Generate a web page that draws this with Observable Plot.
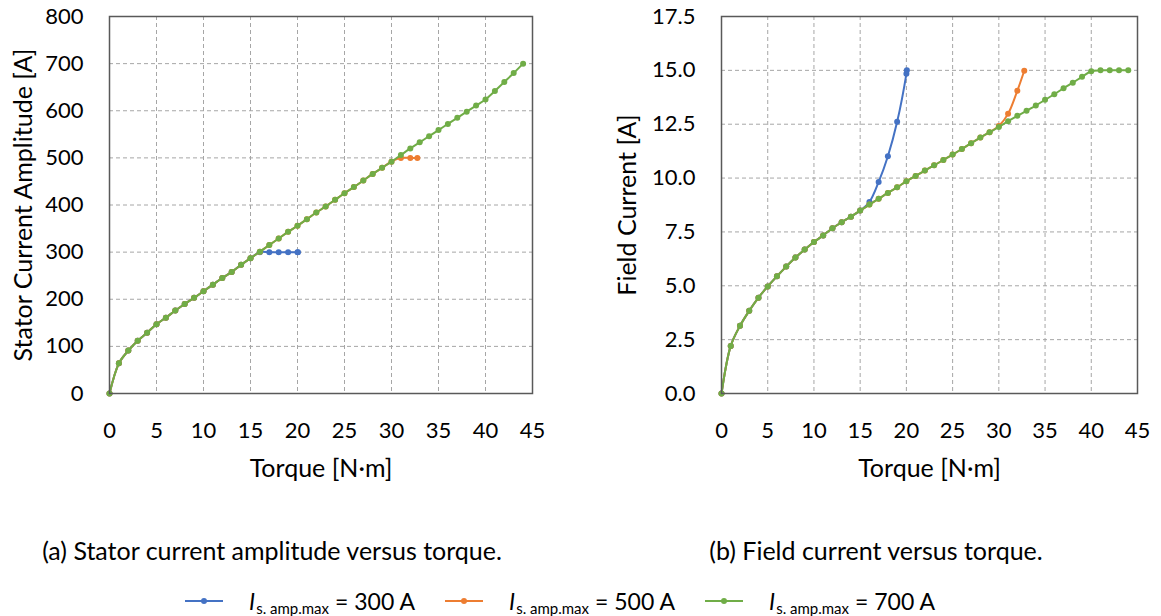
<!DOCTYPE html>
<html>
<head>
<meta charset="utf-8">
<script src="https://cdn.jsdelivr.net/npm/d3@7"></script>
<script src="https://cdn.jsdelivr.net/npm/@observablehq/plot@0.6"></script>
<style>
  html, body { margin: 0; padding: 0; background: #fff; }
  body { width: 1161px; height: 616px; position: relative; overflow: hidden; font-family: Lato, sans-serif; color: #000; }
  #left { position: absolute; left: 0; top: 0; }
  #right { position: absolute; left: 590px; top: 0; }
  .caption { position: absolute; font-size: 25px; line-height: 30px; white-space: nowrap; transform: translateX(-50%); }
  #legend { position: absolute; top: 586px; left: 0; width: 1161px; height: 30px; font-size: 23px; }
  .swatch { position: absolute; top: 10px; }
  .label { position: absolute; top: 0; line-height: 30px; white-space: nowrap; }
  .label sub { font-size: 15px; vertical-align: -4px; margin-left: 1px; margin-right: 6px; }
</style>
</head>
<body>
<div id="left"></div>
<div id="right"></div>
<div class="caption" style="left:272px; top:535px;">(a) Stator current amplitude versus torque.</div>
<div class="caption" style="left:876px; top:535px;">(b) Field current versus torque.</div>
<div id="legend"></div>
<script>
// ---- Data ----
const seriesNames = ["300 A", "500 A", "700 A"];
const seriesColors = ["#4472C4", "#ED7D31", "#70AD47"];

const xTicks = [0, 5, 10, 15, 20, 25, 30, 35, 40, 45];
const statorTicks = [0, 100, 200, 300, 400, 500, 600, 700, 800];
const fieldTicks = [0, 2.5, 5, 7.5, 10, 12.5, 15, 17.5];

// I_s.amp.max = 700 A
const torque700 = [0,1,2,3,4,5,6,7,8,9,10,11,12,13,14,15,16,17,18,19,20,21,22,23,24,25,26,27,28,29,30,31,32,33,34,35,36,37,38,39,40,41,42,43,44];
const stator700 = [0,64,91,112,129,147,161,176,190,203,217,231,245,258,273,287,301,315,329,343,356,370,384,397,411,425,438,452,466,479,492,506,520,533,546,559,572,585,598,611,624,642,661,680,700];
const field700 = [0,2.21,3.14,3.84,4.45,4.97,5.44,5.89,6.31,6.68,7.03,7.34,7.67,7.95,8.21,8.49,8.77,9.04,9.31,9.57,9.85,10.10,10.35,10.59,10.84,11.09,11.35,11.62,11.88,12.13,12.37,12.64,12.89,13.12,13.37,13.63,13.89,14.17,14.43,14.70,14.96,15,15,15,15];

// I_s.amp.max = 300 A
const torque300 = [0,1,2,3,4,5,6,7,8,9,10,11,12,13,14,15,16,17,18,19,20,20.05];
const stator300 = [0,64,91,112,129,147,161,176,190,203,217,231,245,258,273,287,300,300,300,300,300,300];
const field300 = [0,2.21,3.14,3.84,4.45,4.97,5.44,5.89,6.31,6.68,7.03,7.34,7.67,7.95,8.21,8.49,8.89,9.82,11.01,12.61,14.84,15.0];

// I_s.amp.max = 500 A
const torque500 = [0,1,2,3,4,5,6,7,8,9,10,11,12,13,14,15,16,17,18,19,20,21,22,23,24,25,26,27,28,29,30,31,32,32.75];
const stator500 = [0,64,91,112,129,147,161,176,190,203,217,231,245,258,273,287,301,315,329,343,356,370,384,397,411,425,438,452,466,479,492,500,500,500];
const field500 = [0,2.21,3.14,3.84,4.45,4.97,5.44,5.89,6.31,6.68,7.03,7.34,7.67,7.95,8.21,8.49,8.77,9.04,9.31,9.57,9.85,10.10,10.35,10.59,10.84,11.09,11.35,11.62,11.88,12.13,12.42,12.98,14.05,14.98];

const xLabel = "Torque [N·m]";
const statorLabel = "Stator Current Amplitude [A]";
const fieldLabel = "Field Current [A]";

// ---- Build tables ----
function table(xs, ys, s) { return xs.map((x, i) => ({x, y: ys[i], s})); }
const statorSeries = [
  table(torque300, stator300, seriesNames[0]),
  table(torque500, stator500, seriesNames[1]),
  table(torque700, stator700, seriesNames[2])
];
const fieldSeries = [
  table(torque300, field300, seriesNames[0]),
  table(torque500, field500, seriesNames[1]),
  table(torque700, field700, seriesNames[2])
];

const tickFont = 22;
const titleFont = 25;
const gridStyle = {stroke: "#a6a6a6", strokeOpacity: 1, strokeWidth: 1, strokeDasharray: "4,3"};

function makeChart({series, yDomain, yTicks, yFormat, width, marginLeft, marginRight, yLabel, yLabelDx, xLabelDx}) {
  const marks = [
    Plot.gridX(xTicks.slice(1, -1), gridStyle),
    Plot.gridY(yTicks.slice(1, -1), gridStyle),
    Plot.axisX(xTicks, {tickSize: 0, tickPadding: 29, fontSize: tickFont, label: null}),
    Plot.axisY(yTicks, {tickSize: 0, tickPadding: 26, fontSize: tickFont, label: null, tickFormat: yFormat})
  ];
  series.forEach((d, i) => {
    marks.push(Plot.line(d, {x: "x", y: "y", stroke: seriesColors[i], strokeWidth: 2, curve: "catmull-rom"}));
    marks.push(Plot.dot(d, {x: "x", y: "y", fill: seriesColors[i], r: 3}));
  });
  marks.push(Plot.frame({stroke: "#595959", strokeWidth: 1.5}));
  marks.push(Plot.text([xLabel], {frameAnchor: "bottom", dy: 75, dx: xLabelDx, fontSize: titleFont, lineAnchor: "middle", textAnchor: "middle", fill: "#000"}));
  marks.push(Plot.text([yLabel], {frameAnchor: "left", dx: yLabelDx, rotate: -90, fontSize: titleFont, lineAnchor: "middle", textAnchor: "middle", fill: "#000"}));
  return Plot.plot({
    width, height: 490,
    marginLeft, marginRight, marginTop: 16, marginBottom: 97,
    style: {fontFamily: "Lato, sans-serif", fontSize: tickFont + "px", color: "#000", background: "transparent", overflow: "visible"},
    x: {domain: [0, 45]},
    y: {domain: yDomain},
    marks
  });
}

document.getElementById("left").appendChild(makeChart({
  series: statorSeries, yDomain: [0, 800], yTicks: statorTicks, yFormat: d => String(d),
  width: 560, marginLeft: 109, marginRight: 28, yLabel: statorLabel, yLabelDx: -86, xLabelDx: 0
}));
document.getElementById("right").appendChild(makeChart({
  series: fieldSeries, yDomain: [0, 17.5], yTicks: fieldTicks, yFormat: d => d.toFixed(1),
  width: 571, marginLeft: 131, marginRight: 24, yLabel: fieldLabel, yLabelDx: -94, xLabelDx: 0
}));

// ---- Legend ----
const legendX = [185, 445, 705];
const legend = document.getElementById("legend");
seriesNames.forEach((name, i) => {
  const sw = document.createElement("div");
  sw.className = "swatch";
  sw.style.left = legendX[i] + "px";
  sw.innerHTML = `<svg width="38" height="10" style="display:block"><line x1="0" x2="38" y1="5" y2="5" stroke="${seriesColors[i]}" stroke-width="2"/><circle cx="19" cy="5" r="3" fill="${seriesColors[i]}"/></svg>`;
  legend.appendChild(sw);
  const lb = document.createElement("div");
  lb.className = "label";
  lb.style.left = (legendX[i] + 64) + "px";
  lb.innerHTML = `<i>I</i><sub>s. amp.max</sub>= ${name}`;
  legend.appendChild(lb);
});
</script>
</body>
</html>
